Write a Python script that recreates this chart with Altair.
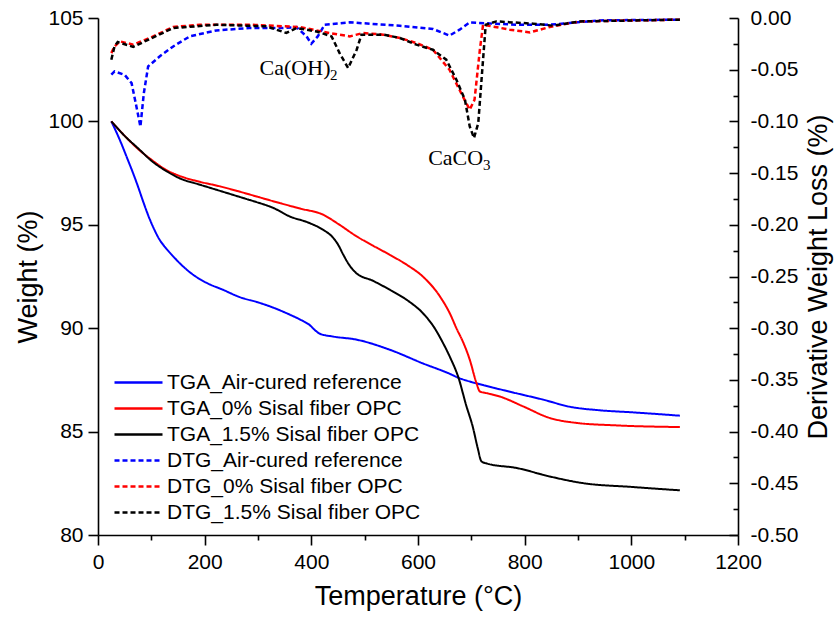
import altair as alt
import pandas as pd

# ---------------- series names ----------------
series_names = [
    "TGA_Air-cured reference",
    "TGA_0% Sisal fiber OPC",
    "TGA_1.5% Sisal fiber OPC",
    "DTG_Air-cured reference",
    "DTG_0% Sisal fiber OPC",
    "DTG_1.5% Sisal fiber OPC",
]
series_colors = ["#0000ff", "#ff0000", "#000000", "#0000ff", "#ff0000", "#000000"]
series_dashes = [[1, 0], [1, 0], [1, 0], [5, 3], [5, 3], [5, 3]]

# ---------------- TGA: weight (%) vs temperature (°C) ----------------
tga_air_t = [25, 35, 45, 55, 65, 75, 85, 95, 105, 115, 128, 140, 153, 175, 203, 235, 266, 300,
             328, 360, 384, 397, 407, 416, 440, 484, 547, 609, 659, 676, 700, 722, 785, 834,
             885, 941, 1003, 1091]
tga_air_w = [100.0, 99.45, 98.85, 98.2, 97.55, 96.85, 96.1, 95.4, 94.8, 94.3, 93.85, 93.5,
             93.15, 92.65, 92.2, 91.85, 91.5, 91.25, 91.0, 90.65, 90.35, 90.15, 89.9, 89.73,
             89.6, 89.45, 88.96, 88.3, 87.8, 87.6, 87.4, 87.25, 86.85, 86.55, 86.2, 86.03,
             85.93, 85.77]

tga_0_t = [25, 50, 78, 100, 128, 160, 191, 230, 266, 300, 341, 380, 422, 450, 485, 515, 547,
           580, 609, 641, 660, 672, 685, 697, 709, 716, 730, 753, 797, 847, 897, 972, 1091]
tga_0_w = [100.0, 99.3, 98.6, 98.15, 97.65, 97.3, 97.08, 96.85, 96.6, 96.35, 96.05, 95.78,
           95.49, 95.05, 94.44, 94.0, 93.55, 93.05, 92.5, 91.54, 90.7, 90.0, 89.3, 88.48, 87.4,
           86.94, 86.85, 86.7, 86.22, 85.66, 85.42, 85.3, 85.22]

tga_15_t = [25, 50, 78, 100, 128, 153, 191, 234, 278, 297, 330, 359, 395, 422, 440, 450, 460,
            470, 484, 515, 547, 580, 609, 630, 647, 660, 676, 690, 703, 712, 719, 730, 785, 847,
            909, 1003, 1091]
tga_15_w = [100.0, 99.3, 98.63, 98.1, 97.6, 97.25, 96.94, 96.6, 96.25, 96.1, 95.8, 95.41, 95.1,
            94.76, 94.4, 94.05, 93.55, 93.1, 92.67, 92.3, 91.86, 91.35, 90.73, 90.05, 89.28,
            88.6, 87.6, 86.3, 85.2, 84.2, 83.56, 83.45, 83.24, 82.83, 82.51, 82.32, 82.16]

# ---------------- DTG: derivative weight loss (%) vs temperature (°C) ----------------
dtg_air_t = [25, 31, 50, 63, 72, 79.5, 86, 94, 116, 141, 172, 222, 284, 347, 372, 391, 400, 412,
             425, 472, 566, 628, 659, 678, 697, 741, 785, 847, 941, 1091]
dtg_air_v = [-0.0548, -0.0516, -0.055, -0.063, -0.0855, -0.105, -0.0725, -0.0468, -0.037,
             -0.0275, -0.0178, -0.012, -0.0097, -0.0097, -0.0087, -0.0178, -0.0249, -0.0178,
             -0.0065, -0.0042, -0.0075, -0.0106, -0.017, -0.0113, -0.0042, -0.0055, -0.0065,
             -0.0065, -0.0023, -0.0016]

dtg_0_t = [25, 31, 41, 66, 97, 141, 191, 284, 378, 434, 472, 497, 535, 566, 597, 628, 659, 684,
           697, 706, 716, 722, 772, 810, 847, 903, 1091]
dtg_0_v = [-0.034, -0.0275, -0.0226, -0.0258, -0.0193, -0.0087, -0.0065, -0.0065, -0.0087,
           -0.0145, -0.0178, -0.0145, -0.0161, -0.0193, -0.0242, -0.0307, -0.05, -0.0758,
           -0.0887, -0.079, -0.0307, -0.0065, -0.0113, -0.0139, -0.0087, -0.0033, -0.0016]

dtg_15_t = [25, 31, 37, 66, 97, 141, 222, 316, 353, 372, 410, 438, 453, 469, 485, 494, 535, 566,
            597, 628, 653, 672, 688, 697, 705, 713, 721, 727, 747, 816, 853, 903, 1091]
dtg_15_v = [-0.0403, -0.0275, -0.0232, -0.028, -0.0203, -0.0097, -0.0065, -0.0081, -0.0145,
            -0.0097, -0.013, -0.0178, -0.034, -0.0484, -0.0307, -0.0161, -0.0161, -0.0193,
            -0.0258, -0.0307, -0.0403, -0.0597, -0.079, -0.1048, -0.116, -0.1016, -0.0468,
            -0.0065, -0.0033, -0.0055, -0.0074, -0.0033, -0.0016]

# ---------------- peak annotations ----------------
ann_text = ["Ca(OH)", "CaCO"]
ann_temp = [303, 619]
ann_dtg = [-0.0553, -0.1419]
sub_text = ["2", "3"]
sub_temp = [435, 722]
sub_dtg = [-0.0597, -0.1472]

# ---------------- axis tick values ----------------
x_major = [0, 200, 400, 600, 800, 1000, 1200]
x_minor = [100, 300, 500, 700, 900, 1100]
left_ticks = [80, 85, 90, 95, 100, 105]
right_major = [0.0, -0.05, -0.10, -0.15, -0.20, -0.25, -0.30, -0.35, -0.40, -0.45, -0.50]
right_minor = [-0.025, -0.075, -0.125, -0.175, -0.225, -0.275, -0.325, -0.375, -0.425, -0.475]


def frame(ts, vs, name, col):
    return pd.DataFrame({"temp": ts, col: vs, "series": name})


tga_df = pd.concat([
    frame(tga_air_t, tga_air_w, series_names[0], "weight"),
    frame(tga_0_t, tga_0_w, series_names[1], "weight"),
    frame(tga_15_t, tga_15_w, series_names[2], "weight"),
])
dtg_df = pd.concat([
    frame(dtg_air_t, dtg_air_v, series_names[3], "dtg"),
    frame(dtg_0_t, dtg_0_v, series_names[4], "dtg"),
    frame(dtg_15_t, dtg_15_v, series_names[5], "dtg"),
])
ann_df = pd.DataFrame({"label": ann_text, "temp": ann_temp, "dtg": ann_dtg})
sub_df = pd.DataFrame({"label": sub_text, "temp": sub_temp, "dtg": sub_dtg})

SANS = "Liberation Sans"
SERIF = "Liberation Serif"

x_scale = alt.Scale(domain=[0, 1200], nice=False, zero=False)
w_scale = alt.Scale(domain=[80, 105], nice=False, zero=False)
d_scale = alt.Scale(domain=[-0.5, 0], nice=False, zero=False)
color_scale = alt.Scale(domain=series_names, range=series_colors)
dash_scale = alt.Scale(domain=series_names, range=series_dashes)

# legend key: a long horizontal stroke (path spans twice the symbol's nominal width)
legend = alt.Legend(
    title=None, orient="none", legendX=27, legendY=351, symbolType="M-2,0H2",
    symbolSize=576, symbolStrokeWidth=2.5, symbolFillColor="transparent",
    labelFont=SANS, labelFontSize=21, labelColor="#000000", labelLimit=500,
    rowPadding=2, padding=0, labelOffset=15,
)

tga_layer = alt.Chart(tga_df).mark_line(strokeWidth=2, interpolate="monotone").encode(
    x=alt.X("temp:Q", scale=x_scale, axis=alt.Axis(
        orient="bottom", values=x_major, title="Temperature (°C)", tickSize=10, format="d",
        labelPadding=6, titlePadding=11, labelFlush=False, labelOverlap=False)),
    y=alt.Y("weight:Q", scale=w_scale, axis=alt.Axis(
        orient="left", values=left_ticks, title="Weight (%)", tickSize=10,
        labelPadding=5, titlePadding=5, labelFlush=False, labelOverlap=False)),
    color=alt.Color("series:N", scale=color_scale, legend=legend),
    strokeDash=alt.StrokeDash("series:N", scale=dash_scale, legend=legend),
)

dtg_layer = alt.Chart(dtg_df).mark_line(strokeWidth=2.5).encode(
    x=alt.X("temp:Q", scale=x_scale, axis=None),
    y=alt.Y("dtg:Q", scale=d_scale, axis=alt.Axis(
        orient="right", values=right_major, title="Derivative Weight Loss (%)",
        tickSize=alt.ExprRef(expr="-9"), labelPadding=21, titlePadding=8,
        titleAngle=270, titleBaseline="top", labelFlush=False, labelOverlap=False,
        labelExpr="(datum.value < 0 ? '-' : '') + format(abs(datum.value), '.2f')")),
    color=alt.Color("series:N", scale=color_scale, legend=legend),
    strokeDash=alt.StrokeDash("series:N", scale=dash_scale, legend=legend),
)

# peak labels; this layer also carries the minor ticks of the bottom and right axes
ann_layer = alt.Chart(ann_df).mark_text(
    font=SERIF, fontSize=22, align="left", baseline="alphabetic", color="#000000"
).encode(
    x=alt.X("temp:Q", scale=x_scale, axis=alt.Axis(
        orient="bottom", values=x_minor, tickSize=5, labels=False, domain=False, title=None)),
    y=alt.Y("dtg:Q", scale=d_scale, axis=alt.Axis(
        orient="right", values=right_minor, tickSize=alt.ExprRef(expr="-5"), labels=False,
        domain=False, title=None)),
    text="label:N",
)

sub_layer = alt.Chart(sub_df).mark_text(
    font=SERIF, fontSize=15, align="left", baseline="alphabetic", color="#000000"
).encode(
    x=alt.X("temp:Q", scale=x_scale, axis=None),
    y=alt.Y("dtg:Q", scale=d_scale, axis=None),
    text="label:N",
)

chart = alt.layer(tga_layer, dtg_layer, ann_layer, sub_layer).resolve_scale(
    y="independent"
).resolve_axis(
    x="independent", y="independent"
).properties(
    width=640, height=517,
    autosize=alt.AutoSizeParams(type="none"),
    padding={"left": 98, "top": 18, "right": 96, "bottom": 84},
    background="#ffffff",
).configure_view(
    stroke=None
).configure_axis(
    grid=False, domainColor="#000000", domainWidth=1.6, tickColor="#000000", tickWidth=1.6,
    labelFont=SANS, labelFontSize=21, labelColor="#000000",
    titleFont=SANS, titleFontSize=27, titleFontWeight="normal", titleColor="#000000",
)

chart.save("out.html", embed_options={"renderer": "svg", "actions": False})
